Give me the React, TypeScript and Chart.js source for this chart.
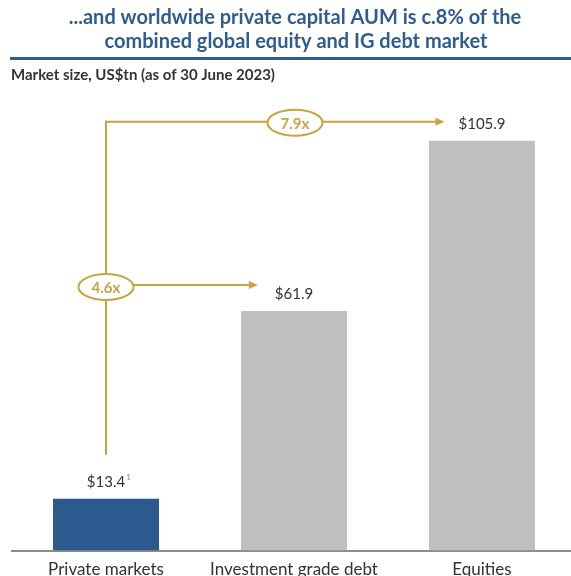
import React, { useEffect, useRef } from "react";
import { Chart, registerables } from "chart.js";

Chart.register(...registerables);

const titleLines = [
  "...and worldwide private capital AUM is c.8% of the",
  "combined global equity and IG debt market",
];
const subtitle = "Market size, US$tn (as of 30 June 2023)";
const categories = ["Private markets", "Investment grade debt", "Equities"];
const values = [13.4, 61.9, 105.9];
const valuePrefix = "$";
const footnoteMarks = ["1", "", ""];
const multipliers = ["4.6x", "7.9x"];
const barColors = ["#2D5A8E", "#BFBFBF", "#BFBFBF"];

const BLUE = "#2F5C91";
const GOLD = "#C8A43E";
const TEXT = "#333333";
const FONT = "Lato";

function labelText(i: number) {
  return valuePrefix + values[i].toFixed(1);
}

const annotationPlugin = {
  id: "annotations",
  afterDraw(chart: any) {
    const ctx = chart.ctx as CanvasRenderingContext2D;
    const meta = chart.getDatasetMeta(0);
    const bars = meta.data;
    ctx.save();

    // Title
    ctx.fillStyle = BLUE;
    ctx.font = `bold 20px ${FONT}`;
    ctx.textAlign = "center";
    ctx.textBaseline = "middle";
    ctx.fillText(titleLines[0], 295, 18);
    ctx.fillText(titleLines[1], 296, 42);

    // rule
    ctx.fillStyle = BLUE;
    ctx.fillRect(10, 57, 571, 3);

    // subtitle
    ctx.fillStyle = TEXT;
    ctx.font = `bold 15px ${FONT}`;
    ctx.textAlign = "left";
    ctx.fillText(subtitle, 11, 75);

    // value labels
    ctx.font = `15px ${FONT}`;
    ctx.textAlign = "center";
    const labelWidths: number[] = [];
    bars.forEach((b: any, i: number) => {
      const t = labelText(i);
      ctx.font = `15px ${FONT}`;
      const w = ctx.measureText(t).width;
      labelWidths.push(w);
      ctx.fillStyle = TEXT;
      ctx.fillText(t, b.x, b.y - 17);
      if (footnoteMarks[i]) {
        ctx.font = `8px ${FONT}`;
        ctx.textAlign = "left";
        ctx.fillStyle = "#888";
        ctx.fillText(footnoteMarks[i], b.x + w / 2 + 1, b.y - 21);
        ctx.textAlign = "center";
      }
    });

    // annotations
    const x0 = bars[0].x;
    const yTop = bars[2].y - 19;
    const yMid = bars[1].y - 26;
    const yBottom = bars[0].y - 44;
    const rx = 27.5;
    const ry = 13;

    ctx.strokeStyle = GOLD;
    ctx.fillStyle = GOLD;
    ctx.lineWidth = 2;

    const arrow = (xa: number, xb: number, y: number) => {
      ctx.strokeStyle = GOLD;
      ctx.fillStyle = GOLD;
      ctx.beginPath();
      ctx.moveTo(xa, y);
      ctx.lineTo(xb - 7, y);
      ctx.stroke();
      ctx.beginPath();
      ctx.moveTo(xb, y);
      ctx.lineTo(xb - 9, y - 4);
      ctx.lineTo(xb - 9, y + 4);
      ctx.closePath();
      ctx.fill();
    };
    const bubble = (cx: number, cy: number, text: string) => {
      ctx.beginPath();
      ctx.ellipse(cx, cy, rx, ry, 0, 0, Math.PI * 2);
      ctx.fillStyle = "#ffffff";
      ctx.fill();
      ctx.strokeStyle = GOLD;
      ctx.stroke();
      ctx.fillStyle = GOLD;
      ctx.font = `bold 15px ${FONT}`;
      ctx.textAlign = "center";
      ctx.textBaseline = "middle";
      ctx.fillText(text, cx, cy + 1);
    };

    // vertical line
    ctx.beginPath();
    ctx.moveTo(x0, yBottom);
    ctx.lineTo(x0, yTop - 1);
    ctx.stroke();

    // arrow to IG
    const tipIG = bars[1].x - labelWidths[1] / 2 - 17;
    arrow(x0, tipIG, yMid);
    bubble(x0, yMid + 2, multipliers[0]);

    // arrow to equities
    const tipEq = bars[2].x - labelWidths[2] / 2 - 14;
    arrow(x0 - 1, tipEq, yTop);
    bubble(bars[1].x + 1, yTop + 1, multipliers[1]);

    ctx.restore();
  },
};

export default function App() {
  const ref = useRef<HTMLCanvasElement | null>(null);
  useEffect(() => {
    if (!ref.current) return;
    const chart = new Chart(ref.current, {
      type: "bar",
      data: {
        labels: categories,
        datasets: [
          {
            data: values,
            backgroundColor: barColors,
            barPercentage: 0.564,
            categoryPercentage: 1,
          },
        ],
      },
      options: {
        responsive: false,
        animation: false,
        devicePixelRatio: 1,
        layout: { padding: { left: 12, right: 4, top: 90, bottom: -13 } },
        plugins: {
          legend: { display: false },
          tooltip: { enabled: false },
          title: { display: false },
        },
        scales: {
          x: {
            grid: { display: false, drawTicks: false },
            border: { display: true, color: "#8C8C8C", width: 2 },
            ticks: {
              color: TEXT,
              font: { family: FONT, size: 17 },
              padding: 9,
              maxRotation: 0,
            },
          },
          y: { display: false, min: 0, max: 119 },
        },
      },
      plugins: [annotationPlugin],
    });
    return () => chart.destroy();
  }, []);
  return (
    <div
      style={{
        position: "absolute",
        left: 0,
        top: 0,
        width: 571,
        height: 576,
        overflow: "hidden",
        background: "#fff",
      }}
    >
      <canvas ref={ref} width={580} height={576} style={{ width: 580, height: 576 }} />
    </div>
  );
}
